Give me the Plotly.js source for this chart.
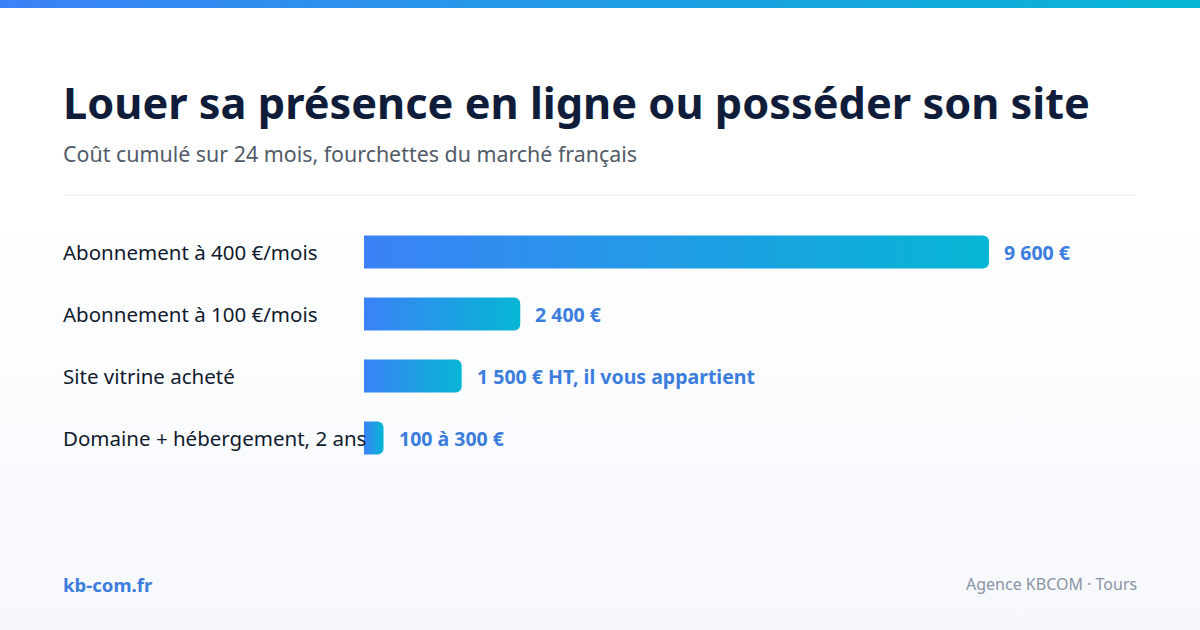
<!DOCTYPE html>
<html>
<head>
<meta charset="utf-8">
<script src="https://cdn.plot.ly/plotly-3.0.1.min.js"></script>
<style>
  html, body { margin: 0; padding: 0; }
  body {
    width: 1200px; height: 630px; overflow: hidden;
    background: linear-gradient(180deg, #ffffff 0%, #ffffff 30%, #f6f8fc 100%);
    font-family: "Noto Sans", sans-serif;
  }
  #topbar {
    position: absolute; left: 0; top: 0; width: 1200px; height: 8px;
    background: linear-gradient(90deg, #3b82f6 0%, #06b6d4 100%);
  }
  #chart { position: absolute; left: 0; top: 0; width: 1200px; height: 630px; }
</style>
</head>
<body>
<div id="chart"></div>
<div id="topbar"></div>
<script>
// categories top to bottom
const categories = [
    'Abonnement à 400 €/mois',
    'Abonnement à 100 €/mois',
    'Site vitrine acheté',
    'Domaine + hébergement, 2 ans'
];
// cumulated cost over 24 months (€)
const costs = [9600, 2400, 1500, 300];
const valueLabels = ['9 600 €', '2 400 €', '1 500 € HT, il vous appartient', '100 à 300 €'];

const titleText = 'Louer sa présence en ligne ou posséder son site';
const subtitleText = 'Coût cumulé sur 24 mois, fourchettes du marché français';

// plot area: left 364 -> right 1136, 9600 € spans ~625px
const plotLeft = 364, plotRight = 1136;
const plotW = plotRight - plotLeft;
const xMax = 9600 * plotW / 625;
// plot area vertical: top 221, bottom 469 (4 rows of 62px)
const plotTop = 221, plotBottom = 469;
const plotH = plotBottom - plotTop;
const leftX = (64 - plotLeft) / plotW;

const trace = {
    type: 'bar',
    orientation: 'h',
    y: categories,
    x: costs,
    marker: { color: '#3b82f6', line: { width: 0 } },
    hoverinfo: 'none',
    cliponaxis: false
};

// left-aligned category labels
const catAnnotations = categories.map((c) => ({
    xref: 'paper', yref: 'y',
    x: leftX, y: c, xshift: -3,
    xanchor: 'left', yanchor: 'middle',
    text: c, showarrow: false,
    font: { family: 'Noto Sans', size: 20.5, color: '#111a2e' }
}));

// value labels just after each bar
const valAnnotations = categories.map((c, i) => ({
    xref: 'x', yref: 'y',
    x: costs[i], y: c,
    xanchor: 'left', yanchor: 'middle', xshift: 13,
    text: '<b>' + valueLabels[i] + '</b>', showarrow: false,
    font: { family: 'Noto Sans', size: 19.5, color: '#3b7ddd' }
}));

const textAnnotations = [
    {
        xref: 'paper', yref: 'paper', x: leftX, y: 1,
        xshift: -3, yshift: plotTop - 134,
        xanchor: 'left', yanchor: 'bottom',
        text: '<b>' + titleText + '</b>', showarrow: false,
        font: { family: 'Noto Sans', size: 43.3, color: '#0f1d3a' }
    },
    {
        xref: 'paper', yref: 'paper', x: leftX, y: 1,
        xshift: -3, yshift: plotTop - 170,
        xanchor: 'left', yanchor: 'bottom',
        text: subtitleText, showarrow: false,
        font: { family: 'Noto Sans', size: 21.4, color: '#525b68' }
    },
    {
        xref: 'paper', yref: 'paper', x: leftX, y: 0,
        xshift: -3, yshift: -(583 - plotBottom - 13),
        xanchor: 'left', yanchor: 'top',
        text: '<b>kb-com.fr</b>', showarrow: false,
        font: { family: 'Noto Sans', size: 18.6, color: '#3b7ddd' }
    },
    {
        xref: 'paper', yref: 'paper', x: 1, y: 0,
        xshift: 3, yshift: -(583 - plotBottom - 12),
        xanchor: 'right', yanchor: 'top',
        text: 'Agence KBCOM · Tours', showarrow: false,
        font: { family: 'Noto Sans', size: 16, color: '#8a94a6' }
    }
];

const layout = {
    width: 1200, height: 630,
    margin: { l: plotLeft, r: 1200 - plotRight, t: plotTop, b: 630 - plotBottom, pad: 0 },
    paper_bgcolor: 'rgba(0,0,0,0)',
    plot_bgcolor: 'rgba(0,0,0,0)',
    showlegend: false,
    bargap: 0.47,
    barcornerradius: 6,
    xaxis: { range: [0, xMax], visible: false, fixedrange: true },
    yaxis: { autorange: 'reversed', showticklabels: false, showgrid: false, zeroline: false, showline: false, ticks: '', fixedrange: true },
    annotations: catAnnotations.concat(valAnnotations, textAnnotations),
    shapes: [{
        // separator at y=195, 26px above the plot top
        type: 'line', xref: 'paper', yref: 'paper',
        x0: leftX, x1: 1, y0: 1 + 26 / plotH, y1: 1 + 26 / plotH,
        line: { color: '#e6e9ef', width: 1 }
    }]
};

Plotly.newPlot('chart', [trace], layout, { displayModeBar: false, staticPlot: true }).then((gd) => {
    // horizontal gradient fill on each bar (blue -> cyan)
    const svg = gd.querySelector('svg.main-svg');
    const ns = 'http://www.w3.org/2000/svg';
    const defs = svg.querySelector('defs');
    const grad = document.createElementNS(ns, 'linearGradient');
    grad.setAttribute('id', 'barGrad');
    grad.setAttribute('x1', '0'); grad.setAttribute('x2', '1');
    grad.setAttribute('y1', '0'); grad.setAttribute('y2', '0');
    [['0', '#3b82f6'], ['1', '#06b6d4']].forEach(([o, c]) => {
        const s = document.createElementNS(ns, 'stop');
        s.setAttribute('offset', o); s.setAttribute('stop-color', c);
        grad.appendChild(s);
    });
    defs.appendChild(grad);
    gd.querySelectorAll('.bars .point path').forEach((p) => {
        p.style.fill = 'url(#barGrad)';
        p.style.fillOpacity = 1;
    });
});
</script>
</body>
</html>
